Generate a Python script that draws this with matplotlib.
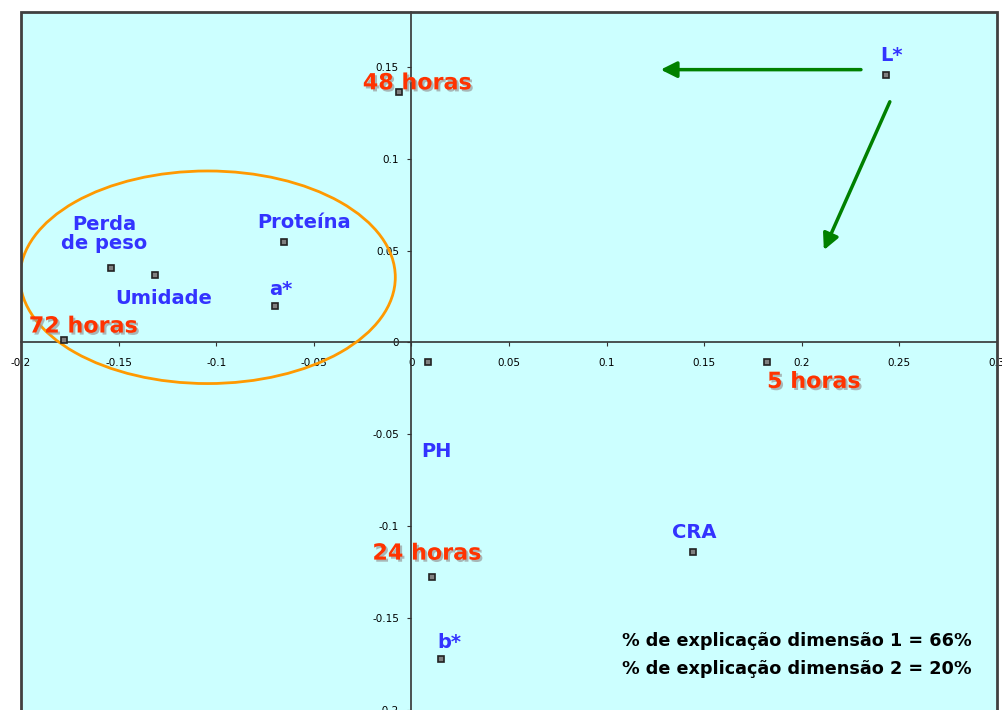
import matplotlib.pyplot as plt
import matplotlib.patheffects as pe
from matplotlib.patches import Ellipse, Rectangle

# coordenadas dos pontos (dimensão 1, dimensão 2)
tempos = ['48 horas', '72 horas', '5 horas', '24 horas']
tempos_x = [-0.0062, -0.178, 0.182, 0.0108]
tempos_y = [0.1366, 0.0011, -0.0109, -0.1279]

variaveis = ['L*', 'Proteína', 'Perda\nde peso', 'Umidade', 'a*', 'PH', 'CRA', 'b*']
variaveis_x = [0.243, -0.0651, -0.1538, -0.1313, -0.0697, 0.0087, 0.1441, 0.0154]
variaveis_y = [0.1459, 0.0546, 0.0404, 0.0366, 0.0197, -0.0104, -0.1142, -0.1727]

explicacao = ['% de explicação dimensão 1 = 66%', '% de explicação dimensão 2 = 20%']

# deslocamento dos rótulos (pontos)
off_tempos = [(13, 6), (14, 10), (34, -14), (-4, 17)]
off_var = [(4, 14), (14, 14), (-5, 25), (6, -17), (4, 12), (6, -65), (1, 14), (6, 12)]

# setas e elipse
setas = [((0.2303, 0.1486), (0.1277, 0.1486)), ((0.2451, 0.1311), (0.2113, 0.0503))]
elipse_centro = (-0.1044, 0.0355)
elipse_w, elipse_h = 0.1923, 0.1158

fig = plt.figure(figsize=(10.03, 7.10), dpi=100)
ax = fig.add_axes([21 / 1003, -0.002, 976 / 1003, 698 / 710 + 0.002])
ax.set_facecolor('#CCFFFF')
ax.set_xlim(-0.2, 0.3)
ax.set_ylim(-0.201, 0.180)

ax.spines['left'].set_position(('data', 0))
ax.spines['bottom'].set_position(('data', 0))
ax.spines['top'].set_visible(False)
ax.spines['right'].set_visible(False)
for s in ['left', 'bottom']:
    ax.spines[s].set_color('#333333')
    ax.spines[s].set_linewidth(1.2)
ax.add_patch(Rectangle((0, 0), 1, 1, transform=ax.transAxes, fill=False,
                       edgecolor='#404040', lw=2, clip_on=False, zorder=5))

xt = [-0.2, -0.15, -0.1, -0.05, 0, 0.05, 0.1, 0.15, 0.2, 0.25, 0.3]
yt = [-0.2, -0.15, -0.1, -0.05, 0, 0.05, 0.1, 0.15]
ax.set_xticks(xt)
ax.set_xticklabels(['%g' % v for v in xt])
ax.set_yticks(yt)
ax.set_yticklabels(['%g' % v for v in yt])
ax.tick_params(axis='x', direction='out', length=3, pad=8, labelsize=7.5, color='#333333')
ax.tick_params(axis='y', direction='out', length=3, pad=6, labelsize=7.5, color='#333333')

ax.plot(tempos_x + variaveis_x, tempos_y + variaveis_y, 's', color='#808080',
        markeredgecolor='#222222', markersize=5, markeredgewidth=1.2, ls='none', zorder=4)

sombra = [pe.withSimplePatchShadow(offset=(1.5, -1.5), shadow_rgbFace='#999999', alpha=0.7)]
for nome, x, y, off in zip(tempos, tempos_x, tempos_y, off_tempos):
    ax.annotate(nome, (x, y), xytext=off, textcoords='offset points', ha='center',
                va='center', color='#FF3300', fontsize=16, fontweight='bold',
                path_effects=sombra, zorder=6)

for nome, x, y, off in zip(variaveis, variaveis_x, variaveis_y, off_var):
    ax.annotate(nome, (x, y), xytext=off, textcoords='offset points', ha='center',
                va='center', color='#3333FF', fontsize=14, fontweight='bold',
                linespacing=1.0, zorder=6)

ax.add_patch(Ellipse(elipse_centro, elipse_w, elipse_h, fill=False,
                     edgecolor='#FF9900', lw=2, zorder=3))

for ini, fim in setas:
    ax.annotate('', xy=fim, xytext=ini,
                arrowprops=dict(arrowstyle='-|>', color='#008000', lw=2.5,
                                mutation_scale=24, shrinkA=0, shrinkB=0))

ax.text(0.108, -0.1625, explicacao[0], fontsize=12.7, fontweight='bold', va='center', ha='left')
ax.text(0.108, -0.1778, explicacao[1], fontsize=12.7, fontweight='bold', va='center', ha='left')

plt.savefig('out.png', dpi=100)
